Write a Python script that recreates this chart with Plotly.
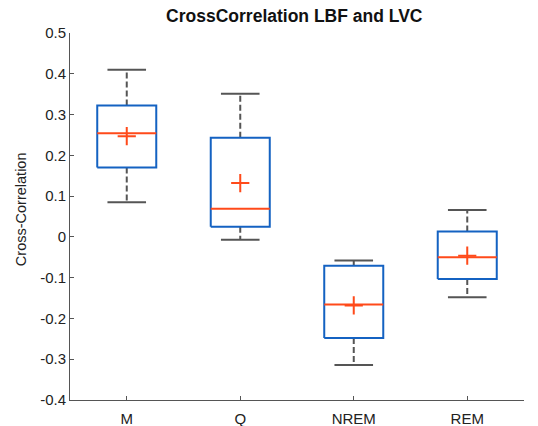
import plotly.graph_objects as go

categories = ["M", "Q", "NREM", "REM"]
upper = [0.410, 0.351, -0.058, 0.066]
q3 = [0.322, 0.243, -0.071, 0.013]
median = [0.254, 0.069, -0.166, -0.050]
mean = [0.247, 0.132, -0.168, -0.046]
q1 = [0.170, 0.025, -0.248, -0.103]
lower = [0.085, -0.007, -0.314, -0.148]
ytick_vals = [-0.4, -0.3, -0.2, -0.1, 0, 0.1, 0.2, 0.3, 0.4, 0.5]
ytick_text = ["-0.4", "-0.3", "-0.2", "-0.1", "0", "0.1", "0.2", "0.3", "0.4", "0.5"]

BOX_HW = 0.26
CAP_HW = 0.17
blue = "#1462C2"
red = "#FF4A1A"
gray = "#555555"

fig = go.Figure()
xs = list(range(1, len(categories) + 1))

for i, x in enumerate(xs):
    fig.add_trace(go.Scatter(x=[x, x, None, x, x], y=[q3[i], upper[i], None, q1[i], lower[i]],
                             mode="lines", line=dict(color=gray, width=2, dash="6px,3px"),
                             showlegend=False, hoverinfo="skip"))
    fig.add_trace(go.Scatter(x=[x - CAP_HW, x + CAP_HW, None, x - CAP_HW, x + CAP_HW],
                             y=[upper[i], upper[i], None, lower[i], lower[i]],
                             mode="lines", line=dict(color=gray, width=2),
                             showlegend=False, hoverinfo="skip"))
    fig.add_trace(go.Scatter(x=[x - BOX_HW, x + BOX_HW, x + BOX_HW, x - BOX_HW, x - BOX_HW],
                             y=[q1[i], q1[i], q3[i], q3[i], q1[i]],
                             mode="lines", line=dict(color=blue, width=2),
                             showlegend=False, hoverinfo="skip"))
    fig.add_trace(go.Scatter(x=[x - BOX_HW, x + BOX_HW], y=[median[i], median[i]],
                             mode="lines", line=dict(color=red, width=2),
                             showlegend=False, hoverinfo="skip"))

fig.add_trace(go.Scatter(x=xs, y=mean, mode="markers",
                         marker=dict(symbol="cross-thin", size=13, line=dict(color=red, width=2)),
                         showlegend=False))

fig.update_layout(
    width=538, height=426,
    margin=dict(l=70, r=14, t=33, b=26, autoexpand=False),
    plot_bgcolor="white", paper_bgcolor="white",
    font=dict(family="Liberation Sans, Arial", size=15, color="#222222"),
    title=dict(text="<b>CrossCorrelation LBF and LVC</b>", x=0.547, xanchor="center",
               xref="container", y=1 - 16 / 426, yref="container", yanchor="middle",
               font=dict(size=17.5, color="#111111")),
    xaxis=dict(range=[0.5, 4.5], tickmode="array", tickvals=xs, ticktext=categories,
               showgrid=False, zeroline=False, showline=True, linecolor="#555555", linewidth=1,
               ticks="inside", ticklen=4, tickcolor="#555555", automargin=False,
               ticklabelstandoff=5),
    yaxis=dict(range=[-0.4, 0.5], tickmode="array", tickvals=ytick_vals, ticktext=ytick_text,
               showgrid=False, zeroline=False, showline=True, linecolor="#555555", linewidth=1,
               ticks="inside", ticklen=4, tickcolor="#555555", automargin=False),
    annotations=[dict(text="Cross-Correlation", textangle=-90, xref="paper", yref="paper",
                      x=-0.108, y=0.52, xanchor="center", yanchor="middle", showarrow=False,
                      font=dict(size=14.5, color="#222222"))],
)

fig.write_html("out.html")
